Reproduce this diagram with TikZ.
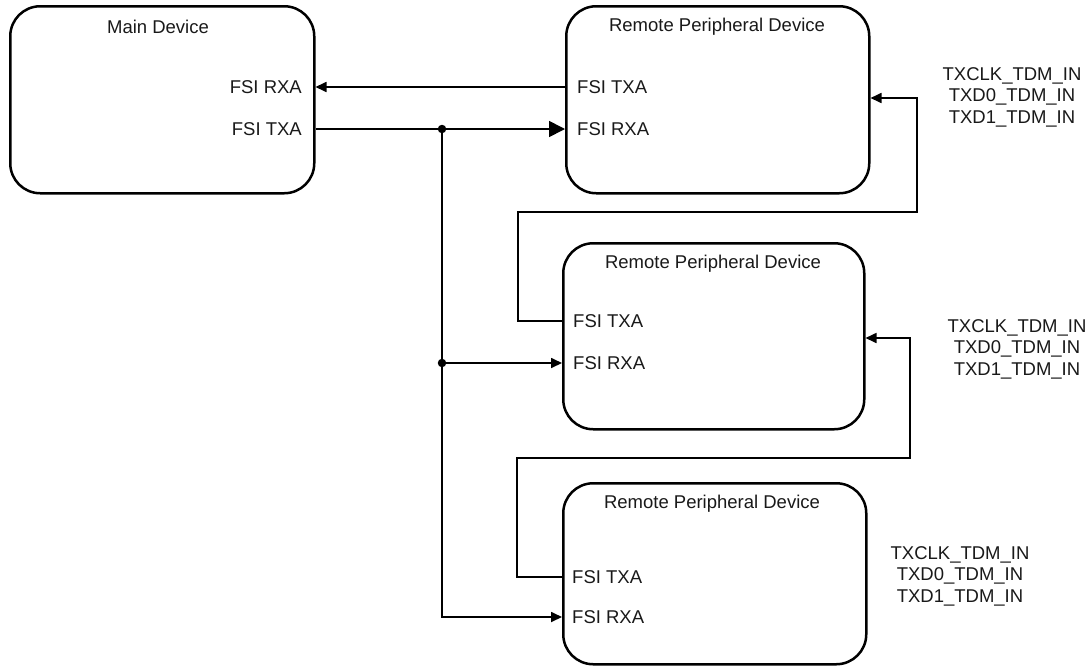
\documentclass[tikz,border=0pt]{standalone}
\usepackage{fontspec}
\setmainfont{Liberation Sans}
\usetikzlibrary{arrows.meta}
\begin{document}
\begin{tikzpicture}[x=1pt,y=-1pt,
  box/.style={draw, line width=2.5pt, rounded corners=30pt, inner sep=0pt, anchor=north west},
  lbl/.style={font=\fontsize{18.5}{21.5}\selectfont, inner sep=0pt, text=black!90},
  wire/.style={line width=1.7pt},
  sarr/.style={wire, -{Triangle[length=11pt,width=10pt]}},
  barr/.style={wire, -{Triangle[length=16pt,width=16pt]}},
  dot/.style={circle, fill, inner sep=0pt, minimum size=8.5pt}]
\useasboundingbox (0,0) rectangle (1091,667);
% boxes
\node[box, minimum width=304pt, minimum height=187pt] (main) at (9,5) {};
\node[box, minimum width=303pt, minimum height=187pt] (r1) at (565,5) {};
\node[box, minimum width=301pt, minimum height=186pt] (r2) at (562,242) {};
\node[box, minimum width=303pt, minimum height=181pt] (r3) at (562,482) {};
% titles
\node[lbl] (mt) at (158,27) {Main Device};
\node[lbl] (r1t) at (717,27) {Remote Peripheral Device};
\node[lbl] (r2t) at (713,264) {Remote Peripheral Device};
\node[lbl] (r3t) at (712,504) {Remote Peripheral Device};
% ports
\node[lbl, anchor=east] (mrx) at (302,87) {FSI RXA};
\node[lbl, anchor=east] (mtx) at (302,129) {FSI TXA};
\node[lbl, anchor=west] (r1tx) at (577,87) {FSI TXA};
\node[lbl, anchor=west] (r1rx) at (577,129) {FSI RXA};
\node[lbl, anchor=west] (r2tx) at (573,321) {FSI TXA};
\node[lbl, anchor=west] (r2rx) at (573,363) {FSI RXA};
\node[lbl, anchor=west] (r3tx) at (572,577) {FSI TXA};
\node[lbl, anchor=west] (r3rx) at (572,617) {FSI RXA};
% TDM labels
\node[lbl, align=center] (t1) at (1012,97) {TXCLK\_TDM\_IN\\TXD0\_TDM\_IN\\TXD1\_TDM\_IN};
\node[lbl, align=center] (t2) at (1017,349) {TXCLK\_TDM\_IN\\TXD0\_TDM\_IN\\TXD1\_TDM\_IN};
\node[lbl, align=center] (t3) at (960,576) {TXCLK\_TDM\_IN\\TXD0\_TDM\_IN\\TXD1\_TDM\_IN};
% junctions
\node[dot] (j1) at (442,129) {};
\node[dot] (j2) at (442,363) {};
\coordinate (a1) at (518,212);
\coordinate (a2) at (917,212);
\coordinate (r1in) at (917,98);
\coordinate (b1) at (517,458);
\coordinate (b2) at (910,458);
\coordinate (r2in) at (910,338);
% connectors
\draw[sarr] (r1.west |- mrx) -- (main.east |- mrx);
\draw[barr] (main.east |- j1) -- (r1.west |- j1);
\draw[wire] (j1) -- (j2);
\draw[sarr] (j2) -- (r2.west |- j2);
\draw[sarr] (j2) |- (r3.west |- r3rx);
\draw[sarr] (r2.west |- r2tx) -| (a1) -- (a2) -- (r1in) -- (r1.east |- r1in);
\draw[sarr] (r3.west |- r3tx) -| (b1) -- (b2) -- (r2in) -- (r2.east |- r2in);
\end{tikzpicture}
\end{document}
